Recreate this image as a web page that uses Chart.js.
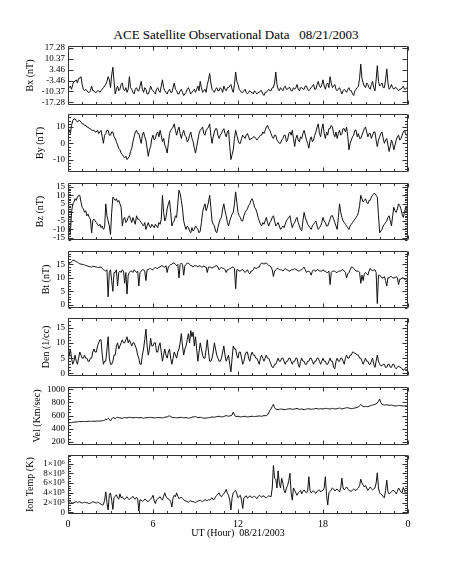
<!DOCTYPE html>
<html>
<head>
<meta charset="utf-8">
<script src="https://cdn.jsdelivr.net/npm/chart.js@4.4.1/dist/chart.umd.min.js"></script>
<style>
  body { margin: 0; background: #fff; }
  #wrap { position: relative; width: 453px; height: 566px; overflow: hidden; }
  #wrap canvas { position: absolute; left: 0; }
  #title { position: absolute; top: 27px; left: 0; width: 472px; text-align: center;
           font: 13px "Liberation Serif"; color: #000; white-space: pre; }
</style>
</head>
<body>
<div id="wrap"><div id="title">ACE Satellite Observational Data   08/21/2003</div></div>
<script>
// one sample every 5 minutes, 0:00 .. 24:00 (12 values per hour row)
const STEP = 1 / 12;
const hourTicks = [0, 6, 12, 18, 24];
const hourLabels = ['0', '6', '12', '18', '0'];

const bx = [
  -9, -8, -7, -9, -6, -4, -4, -3, -5, -2, -2, -1,
  -6, -9, -10, -9, -10, -11, -11, -10, -7, -10, -10, -11,
  -11, -10, -10, -11, -10, -9, -8, -7, -6, -4, -1, -3,
  -8, 0, 5, -4, -12, -9, -7, -10, -9, -6, -5, -9,
  -10, -8, -11, -9, -1, -8, -9, -11, -12, -9, -8, -10,
  -10, -7, -4, -9, -11, -8, -9, -12, -12, -10, -7, -9,
  -10, -11, -12, -9, -8, -10, -11, -7, -3, -8, -10, -11,
  -12, -10, -9, -11, -11, -8, -5, -9, -10, -12, -12, -10,
  -9, -11, -13, -12, -11, -9, -8, -10, -12, -11, -10, -9,
  -11, -9, -7, -10, -4, -8, -11, -10, -9, -11, -6, -3,
  1, -5, -9, -10, -11, -9, -8, -10, -10, -8, -9, -11,
  -7, -9, -10, -8, -8, -7, -6, -9, -11, -6, 2, -4,
  -6, -9, -10, -11, -11, -10, -9, -11, -12, -11, -10, -11,
  -11, -12, -10, -11, -12, -11, -11, -10, -10, -12, -13, -11,
  -11, -10, -9, -10, -10, -8, -8, -5, 2, -6, -9, -10,
  -8, -9, -10, -8, -7, -9, -9, -8, -8, -10, -10, -8,
  -9, -8, -6, -9, -10, -8, -8, -9, -9, -7, -7, -9,
  -10, -9, -8, -7, -6, -9, -9, -6, -4, -7, -8, -6,
  -3, -7, -9, -6, -5, -8, -1, -5, -8, -7, -6, -9,
  -10, -9, -8, -10, -12, -10, -9, -10, -11, -9, -8, -10,
  -10, -12, -13, -10, -9, -8, -7, -2, 7, -2, -5, -7,
  -8, -5, -6, -8, -9, -6, -4, -8, -10, -3, 6, -4,
  -7, -6, -5, -8, -8, -3, 4, -5, -9, -8, -6, -8,
  -9, -8, -8, -9, -10, -9, -9, -8, -7, -9, -9, -8,
  -9
];
const by = [
  10, 8, 6, 11, 14, 15, 15, 14, 13, 14, 14, 13,
  12, 12, 11, 11, 10, 10, 9, 9, 8, 8, 8, 7,
  7, 8, 6, 7, 8, 4, 0, 5, 6, 8, 8, 5,
  5, 7, 7, 4, 3, 1, -1, -3, -4, -6, -7, -8,
  -9, -8, -10, -9, -8, -5, -3, 1, 4, 7, 8, 6,
  6, 3, 0, 5, 7, 4, 2, -3, -8, -4, -2, 3,
  5, 2, 3, 6, 7, 4, 8, 5, 1, 3, -1, -3,
  -6, 0, 6, 8, 9, 10, 12, 8, 5, 8, 10, 6,
  3, 6, 8, 5, 4, 1, 2, 5, 7, 3, 1, -3,
  -6, -2, 2, 6, 8, 9, 10, 6, 5, 8, 9, 10,
  12, 5, 0, 4, 7, 9, 9, 5, 3, 5, 6, 8,
  9, 6, 4, 7, 8, -2, -10, -7, -4, 3, 8, 5,
  2, 0, 0, 3, 5, 4, 3, 5, 6, 4, 2, 3,
  3, 4, 4, 3, 2, 3, 4, 5, 5, 7, 6, 8,
  10, 11, 9, 8, 6, 4, 3, 5, 5, 2, 1, 0,
  0, 2, 3, 5, 5, 1, 2, 6, 7, 5, 8, 3,
  -2, 3, 5, 2, 1, 4, 3, 6, 8, 5, 2, 0,
  -3, 2, 4, 1, 2, 5, 7, 10, 12, 6, 4, 9,
  12, 6, 3, 7, 5, 9, 9, 11, 10, 6, 4, 7,
  3, 6, 8, 5, 6, 9, 9, 7, 10, 4, -4, 0,
  2, 4, 5, 8, 8, 4, 6, 3, 3, 5, 7, 9,
  10, 7, 4, 6, 6, 3, 5, 7, 7, 2, -2, 2,
  4, 6, 7, 3, 0, 2, 3, -1, -5, -2, 2, 0,
  -4, -1, 2, 4, 5, 2, 3, 5, 7, 8, 6, 5,
  4
];
const bz = [
  -5, -10, -12, 0, 5, 6, 8, 7, 9, 10, 10, 6,
  3, 2, 0, 1, -2, -1, -3, -4, -12, -5, -4, -5,
  -6, -7, -8, -7, -9, -8, -10, -9, 5, -2, -5, -8,
  -13, 0, 9, 8, 7, 8, 6, 7, 5, 3, -8, -4,
  -3, -6, -5, -3, -2, -4, -6, -3, -5, -7, -2, -4,
  -4, -5, -6, -7, -8, -6, -10, -8, -6, -8, -9, -7,
  -8, -9, -7, -8, -9, -6, -7, -4, 10, 0, -5, -3,
  2, 5, 7, 0, -8, -6, -5, -2, -3, 5, 13, 11,
  7, 2, -5, -8, -10, -8, -9, -11, -12, -9, -11, -10,
  -8, -9, -10, -12, -11, -6, 0, 3, 5, 1, 3, 6,
  10, 3, -5, -7, -8, -11, -12, -9, -6, -4, -3, 2,
  5, 1, -2, -6, -8, -5, -3, -1, 0, 5, 12, 6,
  0, -2, -3, -5, -5, -2, 0, 1, 2, 4, 5, 7,
  8, 6, 3, 2, 0, -3, -5, -7, -8, -6, -7, -5,
  -3, -6, -8, -6, -5, -3, -2, -5, -8, -7, -6, -8,
  -10, -9, -8, -9, -7, -5, -4, -3, -2, -6, -9, -7,
  -6, -4, -3, -6, -8, -10, -11, -5, 0, -3, -5, -7,
  -8, -9, -10, -8, -7, -6, -5, -8, -10, -9, -8, -6,
  -3, -5, -6, -8, -8, -6, -4, -2, -2, -4, -6, -8,
  -10, -3, 5, 0, -3, -5, -6, -7, -8, -9, -10, -8,
  -7, -6, -5, -4, -3, -2, 0, 4, 10, 8, 6, 7,
  8, 6, 5, 7, 7, 9, 10, 11, 11, 10, 9, -2,
  -12, -11, -10, -8, -7, -6, -5, -3, -2, -5, -8, -2,
  3, 1, 0, 2, 5, 4, 2, -1, -3, 0, 3, 1,
  -3
];
const bt = [
  15, 15.3, 15.5, 16, 16.5, 16.5, 16.3, 16, 15.8, 15.5, 15.2, 15.1,
  15, 14.9, 14.8, 14.6, 14.5, 14.3, 14.2, 14.1, 14, 14.2, 14.3, 14.1,
  14, 13.9, 13.8, 14, 14, 13.5, 13, 12.8, 12.5, 13, 3, 12,
  13, 9, 5, 12, 12, 13, 7, 12, 12.5, 12, 13, 12.5,
  8, 12, 4, 11, 12, 12.5, 12.5, 12, 13, 12.5, 12, 12.5,
  7, 12, 12.5, 13, 13, 12.5, 9, 13, 13, 13.5, 13.5, 13,
  13, 13.5, 14, 13.5, 13.5, 14, 14, 14.5, 14.5, 14, 14, 14.5,
  12, 14, 14.5, 15, 15, 15.5, 15.5, 15, 14.5, 15, 10, 15,
  15.5, 15, 11, 14.5, 15, 15.5, 15.5, 15, 14.5, 14.5, 14, 14.5,
  14.5, 14.5, 14, 14.5, 14.5, 14, 14, 14.5, 14, 14, 12, 14,
  14, 14, 13.5, 14, 14, 14.5, 14.5, 14, 13, 13.5, 14, 13.5,
  13.5, 13, 12, 13, 13, 13.5, 13.5, 14, 14, 13.5, 6, 13,
  13, 12.5, 12.5, 13, 13, 12.5, 12, 12.5, 13, 12, 11.5, 12.5,
  12.5, 13, 14, 13.5, 13.5, 14, 14, 15, 15.5, 15.5, 15, 15.5,
  15.5, 15, 14.5, 14.5, 14, 13, 10.5, 12.5, 13, 13.5, 13.5, 13,
  13, 13, 12.5, 13, 13.5, 13, 13, 12.5, 12.5, 13, 13, 13,
  13.5, 13, 13, 12.5, 12.5, 13, 13, 13.5, 14, 13, 12, 12.5,
  12.5, 12, 11, 12.5, 13, 12.5, 12.5, 13, 13, 12.5, 12.5, 12.5,
  13, 12.5, 12.5, 12, 12, 12.5, 7.5, 12, 12.5, 12.5, 12.5, 12,
  12, 12.5, 12.5, 12.5, 13, 13, 12.5, 12, 10, 11.5, 12, 13,
  14, 14, 13.5, 13, 12.5, 12.5, 12.5, 12, 8, 11, 9, 11.5,
  12, 11.5, 11, 12.5, 13.5, 13, 12.5, 13, 13, 12, 0.5, 11,
  11, 10.5, 10, 10, 10.5, 9, 7, 10, 10, 10.5, 10.5, 10,
  10, 10, 10.5, 10, 7.5, 9.5, 9.5, 10, 10, 9.5, 9.5, 9,
  9
];
const den = [
  4, 6, 8, 5, 3, 4, 6, 4, 3, 5, 7, 6,
  5, 5, 6, 5, 5, 4, 4, 5, 5, 7, 8, 7,
  7, 9, 10, 11, 11, 6, 3, 4, 4, 8, 12, 5,
  3, 3, 4, 6, 6, 9, 10, 8, 9, 10, 11, 10,
  10, 11, 12, 10, 11, 10, 9, 10, 10, 9, 8, 6,
  5, 3, 3, 6, 8, 11, 14.5, 9, 6, 8, 11.5, 9,
  9, 10, 10, 7, 7, 9, 10, 7, 4, 6, 8, 6,
  5, 7, 8, 5, 3, 5, 7, 6, 5, 7, 8, 10,
  13, 9, 6, 8, 9, 11, 13, 10, 14, 12, 13.5, 9,
  12, 8, 4, 7, 10, 8, 6, 5, 5, 8, 11, 7,
  4, 4, 5, 7, 10, 8, 6, 5, 4, 4, 5, 7,
  9, 6, 4, 5, 6, 3, 0.5, 5, 9, 8, 8, 6,
  5, 7, 7, 5, 3, 4, 6, 7, 7, 5, 4, 6,
  7, 6, 6, 5, 5, 4, 3, 5, 6, 5, 4, 5,
  6, 5, 5, 4, 3, 2, 2, 3, 3, 4, 5, 4,
  4, 5, 5, 4, 3, 4, 4, 5, 5, 4, 3, 4,
  4, 5, 5, 3, 2, 4, 5, 4, 4, 3, 3, 4,
  4, 5, 5, 4, 3, 4, 4, 5, 5, 4, 3, 4,
  5, 4, 4, 3, 3, 4, 5, 4, 4, 2, 1.5, 4,
  5, 4, 4, 5, 5, 4, 3, 5, 6, 5, 5, 6,
  6, 7, 7, 6.5, 6.5, 6, 6, 5, 5, 4, 3, 4,
  5, 4, 4, 3, 3, 4, 5, 3, 2, 4, 6, 4,
  3, 2.5, 2.5, 3, 3, 2, 2, 3, 3, 2, 2, 3,
  3, 2, 1.5, 2, 2.5, 2, 2, 1.5, 1, 1.5, 1.5, 1,
  1.5
];
const vel = [
  485, 490, 495, 492, 500, 498, 505, 503, 505, 508, 510, 507,
  510, 512, 512, 510, 510, 513, 515, 512, 512, 515, 515, 514,
  515, 517, 518, 516, 520, 522, 525, 530, 545, 540, 560, 545,
  520, 550, 570, 565, 555, 570, 575, 570, 565, 560, 560, 565,
  570, 568, 565, 570, 575, 572, 570, 565, 568, 570, 572, 570,
  565, 568, 570, 565, 560, 565, 565, 570, 570, 572, 575, 570,
  568, 566, 565, 570, 572, 568, 570, 565, 565, 570, 575, 578,
  580, 590, 595, 585, 575, 570, 570, 568, 565, 568, 570, 572,
  575, 570, 565, 568, 570, 565, 560, 565, 568, 575, 580, 582,
  585, 578, 570, 572, 575, 570, 565, 562, 560, 563, 565, 568,
  570, 575, 580, 578, 575, 580, 585, 588, 590, 585, 580, 583,
  585, 595, 600, 595, 590, 595, 600, 610, 655, 610, 585, 588,
  590, 585, 580, 583, 585, 588, 590, 585, 580, 582, 585, 588,
  590, 588, 585, 588, 590, 592, 595, 592, 590, 595, 600, 598,
  600, 610, 640, 680, 700, 740, 770, 720, 700, 695, 690, 695,
  700, 698, 695, 692, 690, 695, 700, 702, 705, 700, 695, 698,
  700, 705, 710, 700, 695, 698, 700, 695, 690, 695, 700, 702,
  705, 700, 695, 698, 700, 705, 710, 705, 700, 702, 705, 703,
  700, 705, 710, 708, 705, 702, 700, 705, 710, 705, 700, 703,
  705, 710, 715, 708, 700, 705, 710, 715, 720, 718, 715, 710,
  705, 708, 710, 715, 720, 725, 730, 750, 770, 750, 740, 735,
  740, 738, 735, 742, 750, 755, 760, 765, 770, 780, 790, 820,
  850, 800, 770, 765, 760, 762, 765, 760, 755, 758, 760, 755,
  750, 748, 745, 750, 755, 752, 750, 748, 745, 748, 750, 747,
  745
];
const temp = [
  2.0e5, 2.1e5, 2.2e5, 2.0e5, 1.9e5, 2.0e5, 2.1e5, 2.2e5, 2.0e5, 2.1e5, 2.2e5, 2.0e5,
  1.9e5, 2.0e5, 2.1e5, 2.0e5, 2.0e5, 1.9e5, 1.8e5, 1.9e5, 2.0e5, 2.2e5, 2.1e5, 2.0e5,
  1.9e5, 2.1e5, 2.0e5, 1.8e5, 1.7e5, 1.5e5, 1.6e5, 2.5e5, 4.2e5, 2.0e5, 0.5e5, 3.5e5,
  4.0e5, 2.5e5, 0.6e5, 3.0e5, 3.3e5, 3.6e5, 3.0e5, 2.7e5, 3.8e5, 3.0e5, 3.2e5, 2.8e5,
  2.7e5, 3.0e5, 3.2e5, 2.8e5, 2.6e5, 2.9e5, 3.0e5, 3.3e5, 2.9e5, 2.7e5, 3.1e5, 2.8e5,
  0.3e5, 2.6e5, 2.5e5, 2.3e5, 2.4e5, 2.7e5, 2.6e5, 2.3e5, 2.2e5, 2.5e5, 2.7e5, 3.0e5,
  3.5e5, 2.4e5, 1.8e5, 2.6e5, 2.8e5, 3.0e5, 3.2e5, 2.8e5, 2.5e5, 3.3e5, 4.0e5, 3.2e5,
  3.0e5, 2.7e5, 2.6e5, 2.2e5, 1.1e5, 3.0e5, 3.5e5, 3.2e5, 4.0e5, 3.3e5, 2.8e5, 3.0e5,
  3.1e5, 2.8e5, 2.6e5, 2.4e5, 2.3e5, 2.2e5, 2.1e5, 2.3e5, 2.4e5, 2.2e5, 2.2e5, 2.1e5,
  2.0e5, 2.2e5, 2.3e5, 2.4e5, 2.5e5, 2.3e5, 2.2e5, 2.4e5, 2.6e5, 2.5e5, 2.4e5, 2.6e5,
  2.5e5, 2.8e5, 3.0e5, 2.6e5, 2.7e5, 3.2e5, 3.5e5, 3.8e5, 4.0e5, 3.4e5, 3.2e5, 3.6e5,
  3.8e5, 4.2e5, 4.7e5, 3.9e5, 3.5e5, 2.5e5, 0.5e5, 3.0e5, 4.0e5, 4.3e5, 4.5e5, 3.8e5,
  3.0e5, 3.3e5, 3.5e5, 2.5e5, 0.8e5, 3.0e5, 3.2e5, 3.4e5, 2.9e5, 3.1e5, 3.4e5, 3.2e5,
  3.0e5, 3.2e5, 3.3e5, 3.1e5, 2.8e5, 3.2e5, 3.5e5, 3.3e5, 3.1e5, 3.4e5, 3.3e5, 3.1e5,
  3.0e5, 3.2e5, 3.4e5, 3.3e5, 3.2e5, 5.0e5, 9.6e5, 7.0e5, 6.8e5, 5.0e5, 8.5e5, 6.0e5,
  5.0e5, 7.0e5, 6.0e5, 4.5e5, 4.0e5, 5.0e5, 5.5e5, 6.5e5, 8.0e5, 4.0e5, 2.5e5, 5.0e5,
  4.5e5, 4.0e5, 3.5e5, 4.0e5, 4.2e5, 4.5e5, 3.8e5, 4.3e5, 4.6e5, 4.2e5, 4.0e5, 4.4e5,
  7.3e5, 4.5e5, 4.0e5, 4.3e5, 4.4e5, 4.1e5, 3.9e5, 4.3e5, 4.5e5, 4.6e5, 4.2e5, 4.4e5,
  4.5e5, 5.0e5, 7.3e5, 3.5e5, 1.5e5, 4.0e5, 4.3e5, 4.6e5, 5.0e5, 4.8e5, 4.4e5, 4.6e5,
  4.8e5, 4.5e5, 4.2e5, 5.0e5, 7.0e5, 5.0e5, 4.6e5, 4.9e5, 5.2e5, 4.8e5, 4.5e5, 4.4e5,
  4.3e5, 4.6e5, 4.8e5, 4.6e5, 4.5e5, 4.8e5, 5.0e5, 5.5e5, 6.8e5, 6.0e5, 5.6e5, 5.2e5,
  5.5e5, 5.0e5, 4.5e5, 4.8e5, 5.2e5, 4.9e5, 4.6e5, 4.8e5, 5.0e5, 6.0e5, 8.1e5, 5.0e5,
  4.0e5, 3.7e5, 3.6e5, 3.2e5, 3.0e5, 4.5e5, 6.6e5, 4.2e5, 3.8e5, 4.0e5, 4.2e5, 4.5e5,
  4.5e5, 4.2e5, 3.8e5, 4.3e5, 5.0e5, 4.6e5, 4.2e5, 4.0e5, 5.1e5, 4.5e5, 3.8e5, 4.1e5,
  4.0e5
];

const bxTicks = [-17.28, -10.37, -3.46, 3.46, 10.37, 17.28];
const byTicks = [-10, 0, 10];
const bzTicks = [-15, -10, -5, 0, 5, 10, 15];
const btTicks = [0, 5, 10, 15];
const denTicks = [0, 5, 10, 15];
const velTicks = [200, 400, 600, 800, 1000];
const tempTicks = [0, 2e5, 4e5, 6e5, 8e5, 1e6];
const tempLabels = ['0', '2×10⁵', '4×10⁵', '6×10⁵', '8×10⁵', '1×10⁶'];

const panels = [
  { title: 'Bx (nT)', data: bx, ticks: bxTicks, min: -18.8, max: 18.3, minor: 0, top: 44, bottom: 107, titleX: 30 },
  { title: 'By (nT)', data: by, ticks: byTicks, min: -17.4, max: 17.8, minor: 2, top: 112, bottom: 174, titleX: 40 },
  { title: 'Bz (nT)', data: bz, ticks: bzTicks, min: -16, max: 17, minor: 1, top: 181, bottom: 242, titleX: 40 },
  { title: 'Bt (nT)', data: bt, ticks: btTicks, min: -1, max: 19.8, minor: 1, top: 249, bottom: 310, titleX: 46 },
  { title: 'Den (1/cc)', data: den, ticks: denTicks, min: -0.7, max: 18, minor: 1, top: 316, bottom: 378, titleX: 46 },
  { title: 'Vel (Km/sec)', data: vel, ticks: velTicks, min: 160, max: 1028, minor: 50, top: 385, bottom: 447, titleX: 37 },
  { title: 'Ion Temp (K)', data: temp, ticks: tempTicks, labels: tempLabels, min: -3.3e4, max: 1.167e6, minor: 5e4, top: 453, bottom: 514, titleX: 30 },
];

Chart.defaults.font.family = '"Liberation Serif", serif';
Chart.defaults.font.size = 10;
Chart.defaults.color = '#000';

// IDL style frame: full box, ticks pointing inward on all four sides
const boxTicks = {
  id: 'boxTicks',
  afterDatasetsDraw(chart, args, o) {
    const { ctx, chartArea: a } = chart;
    const x = chart.scales.x, y = chart.scales.y;
    const L = Math.round(a.left) + 0.5, R = Math.round(a.right) - 0.5;
    const T = Math.round(a.top) + 0.5, B = Math.round(a.bottom) - 0.5;
    ctx.save();
    ctx.strokeStyle = '#333';
    ctx.lineWidth = 1;
    ctx.beginPath();
    ctx.rect(L, T, R - L, B - T);
    for (let h = 0; h <= 24; h++) {
      const px = Math.round(x.getPixelForValue(h)) + 0.5;
      const len = h % 6 === 0 ? 4 : 2.5;
      ctx.moveTo(px, T); ctx.lineTo(px, T + len);
      ctx.moveTo(px, B); ctx.lineTo(px, B - len);
    }
    const yTick = (v, len) => {
      const py = Math.round(y.getPixelForValue(v)) + 0.5;
      ctx.moveTo(L, py); ctx.lineTo(L + len, py);
      ctx.moveTo(R, py); ctx.lineTo(R - len, py);
    };
    o.major.forEach(v => yTick(v, 5));
    if (o.minor) {
      for (let v = Math.ceil(y.min / o.minor) * o.minor; v <= y.max; v += o.minor) yTick(v, 2.5);
    }
    ctx.stroke();
    ctx.restore();
  }
};

const wrap = document.getElementById('wrap');

panels.forEach((p, i) => {
  const last = i === panels.length - 1;
  const labels = p.labels || p.ticks.map(String);
  const cv = document.createElement('canvas');
  cv.width = 453;
  cv.height = p.bottom - p.top + 6 + (last ? 36 : 6);
  cv.style.top = (p.top - 6) + 'px';
  wrap.appendChild(cv);

  new Chart(cv, {
    type: 'line',
    data: {
      datasets: [{
        data: p.data.map((v, k) => ({ x: k * STEP, y: v })),
        borderColor: '#111',
        borderWidth: 1,
        pointRadius: 0,
        tension: 0,
      }],
    },
    options: {
      responsive: false,
      animation: false,
      events: [],
      layout: { padding: { top: 6, bottom: last ? 0 : 6, left: 0, right: 45 } },
      plugins: {
        legend: { display: false },
        tooltip: { enabled: false },
        boxTicks: { major: p.ticks, minor: p.minor },
      },
      scales: {
        x: {
          type: 'linear',
          min: 0,
          max: 24,
          display: last,
          afterBuildTicks: (s) => { s.ticks = hourTicks.map(v => ({ value: v })); },
          afterFit: (s) => { s.height = last ? 36 : 0; },
          grid: { display: false, drawTicks: false },
          border: { display: false },
          ticks: { padding: 4, autoSkip: false, maxRotation: 0, callback: (v, k) => hourLabels[k] },
          title: { display: true, text: 'UT (Hour)  08/21/2003', padding: { top: 0, bottom: 11 } },
        },
        y: {
          min: p.min,
          max: p.max,
          afterBuildTicks: (s) => { s.ticks = p.ticks.map(v => ({ value: v })); },
          afterFit: (s) => { s.width = 68; },
          grid: { display: false, drawTicks: false },
          border: { display: false },
          ticks: { padding: 3, autoSkip: false, font: { size: 9 }, callback: (v, k) => labels[k] },
          title: { display: true, text: p.title, padding: { top: p.titleX - 6, bottom: 0 } },
        },
      },
    },
    plugins: [boxTicks],
  });
});
</script>
</body>
</html>
